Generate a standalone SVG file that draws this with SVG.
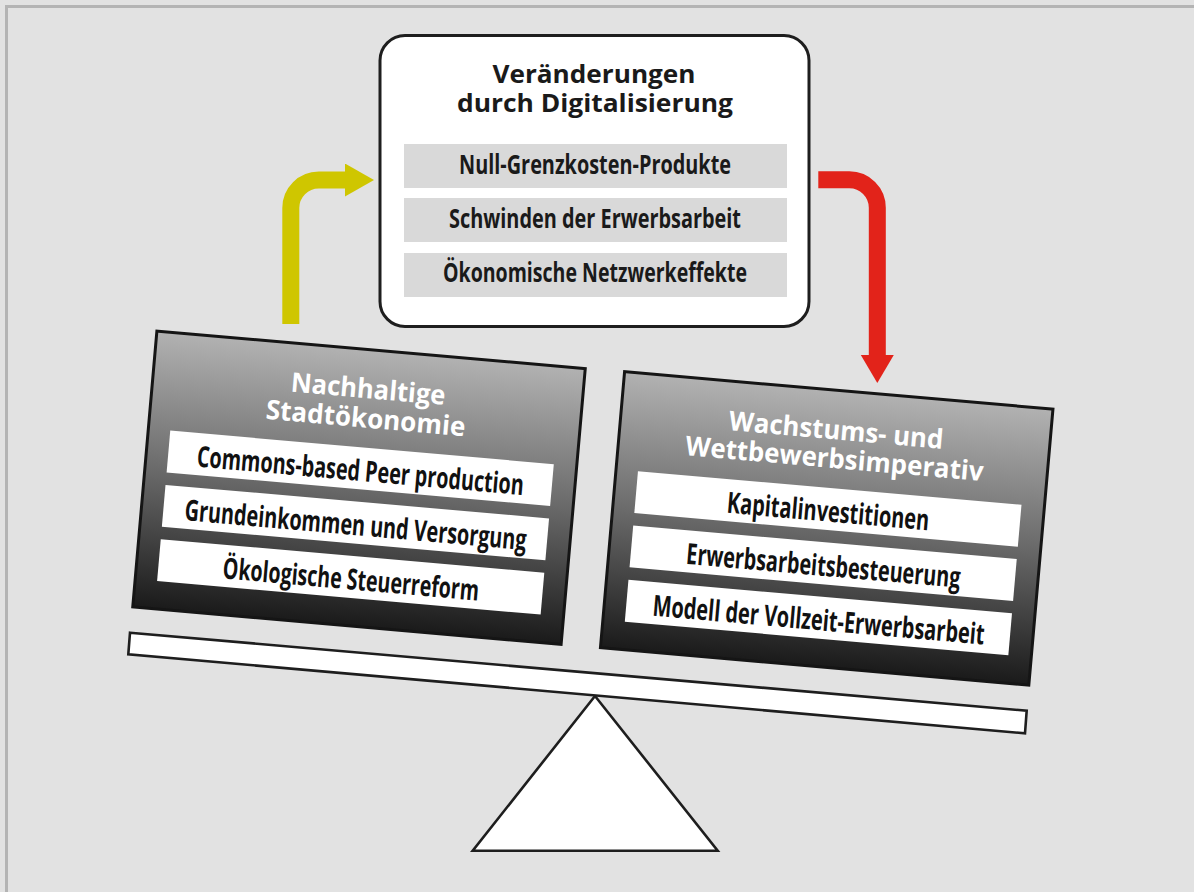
<svg xmlns="http://www.w3.org/2000/svg" width="1194" height="892" viewBox="0 0 1194 892">
  <defs>
    <style>
      .frame { fill: none; stroke: #b4b4b4; stroke-width: 3; }
      .topbox { fill: #ffffff; stroke: #1e1e1e; stroke-width: 3; }
      .graybar { fill: #d9d9d9; }
      .sidebox { fill: url(#boxGrad); stroke: #151515; stroke-width: 3; }
      .whitebar { fill: #ffffff; }
      .title { font-family: "Open Sans", "Liberation Sans", sans-serif; font-weight: 700; font-size: 25.5px; fill: #1a1a1a; text-anchor: middle; }
      .stitle { font-family: "Open Sans", "Liberation Sans", sans-serif; font-weight: 700; font-size: 27px; fill: #ffffff; text-anchor: middle; }
      .item { font-family: "Liberation Sans Narrow", "Open Sans", "Liberation Sans", sans-serif; font-weight: 700; font-size: 26px; fill: #1a1a1a; text-anchor: middle; }
      .sitem { font-family: "Liberation Sans Narrow", "Open Sans", "Liberation Sans", sans-serif; font-weight: 700; font-size: 29px; fill: #111111; text-anchor: middle; }
      .scale { fill: #ffffff; stroke: #1e1e1e; stroke-width: 2.6; stroke-linejoin: miter; }
      .arrowY { fill: none; stroke: #cfc600; stroke-width: 17; }
      .arrowR { fill: none; stroke: #e2231a; stroke-width: 17; }
    </style>
    <linearGradient id="boxGrad" x1="0" y1="0" x2="0" y2="1">
      <stop offset="0" stop-color="#b2b2b2"/>
      <stop offset="0.5" stop-color="#6a6a6a"/>
      <stop offset="1" stop-color="#1a1a1a"/>
    </linearGradient>
    <marker id="headY" markerUnits="userSpaceOnUse" markerWidth="30" markerHeight="34" refX="1" refY="16.5" orient="auto">
      <path d="M0,0 L29,16.5 L0,33 Z" fill="#cfc600"/>
    </marker>
    <marker id="headR" markerUnits="userSpaceOnUse" markerWidth="30" markerHeight="34" refX="1" refY="16.5" orient="auto">
      <path d="M0,0 L28,16.5 L0,33 Z" fill="#e2231a"/>
    </marker>
  </defs>

  <rect x="0" y="0" width="1194" height="892" fill="#e2e2e2"/>
  <path class="frame" d="M6.5,892 V6.5 H1194"/>

  <g id="connectors">
    <path class="arrowY" d="M290.8,324 V208 A28,28 0 0 1 318.8,180 H346" marker-end="url(#headY)"/>
    <path class="arrowR" d="M818.3,179.7 H849.3 A28,28 0 0 1 877.3,207.7 V356" marker-end="url(#headR)"/>
  </g>

  <g id="scale">
    <polygon class="scale" points="595,696 472.7,850.7 717.7,850.7"/>
    <polygon class="scale" points="130,632.7 1026.7,710.7 1025,733.3 128.3,654.3"/>
  </g>

  <g id="digitalisierung">
    <rect class="topbox" x="380" y="35.5" width="429" height="291" rx="25" ry="25"/>
    <text class="title" x="594" y="82.5" textLength="203" lengthAdjust="spacingAndGlyphs">Veränderungen</text>
    <text class="title" x="595" y="112" textLength="276" lengthAdjust="spacingAndGlyphs">durch Digitalisierung</text>
    <rect class="graybar" x="404" y="144" width="383" height="44"/>
    <rect class="graybar" x="404" y="198" width="383" height="44"/>
    <rect class="graybar" x="404" y="253" width="383" height="44"/>
    <text class="item" x="595" y="174" textLength="272" lengthAdjust="spacingAndGlyphs">Null-Grenzkosten-Produkte</text>
    <text class="item" x="595" y="228" textLength="292" lengthAdjust="spacingAndGlyphs">Schwinden der Erwerbsarbeit</text>
    <text class="item" x="595" y="282" textLength="304" lengthAdjust="spacingAndGlyphs">Ökonomische Netzwerkeffekte</text>
  </g>

  <g id="nachhaltige" transform="translate(359,487.75) rotate(5)">
    <rect class="sidebox" x="-215" y="-138.5" width="430" height="277"/>
    <text class="stitle" x="0.6" y="-90" textLength="155" lengthAdjust="spacingAndGlyphs">Nachhaltige</text>
    <text class="stitle" x="0.6" y="-60.5" textLength="200" lengthAdjust="spacingAndGlyphs">Stadtökonomie</text>
    <rect class="whitebar" x="-193" y="-40.5" width="385" height="42"/>
    <rect class="whitebar" x="-193" y="14" width="385" height="42"/>
    <rect class="whitebar" x="-193" y="68.5" width="385" height="42"/>
    <text class="sitem" x="0" y="-7" textLength="328" lengthAdjust="spacingAndGlyphs">Commons-based Peer production</text>
    <text class="sitem" x="0" y="47.5" textLength="343" lengthAdjust="spacingAndGlyphs">Grundeinkommen und Versorgung</text>
    <text class="sitem" x="0" y="102" textLength="257" lengthAdjust="spacingAndGlyphs">Ökologische Steuerreform</text>
  </g>

  <g id="wachstum" transform="translate(826.7,528.4) rotate(5)">
    <rect class="sidebox" x="-215" y="-138.5" width="430" height="277"/>
    <text class="stitle" x="0.9" y="-89.4" textLength="215" lengthAdjust="spacingAndGlyphs">Wachstums- und</text>
    <text class="stitle" x="1.7" y="-60.8" textLength="299" lengthAdjust="spacingAndGlyphs">Wettbewerbsimperativ</text>
    <rect class="whitebar" x="-193" y="-40.5" width="385" height="42"/>
    <rect class="whitebar" x="-193" y="14" width="385" height="42"/>
    <rect class="whitebar" x="-193" y="68.5" width="385" height="42"/>
    <text class="sitem" x="0" y="-7" textLength="203" lengthAdjust="spacingAndGlyphs">Kapitalinvestitionen</text>
    <text class="sitem" x="0" y="47.5" textLength="275" lengthAdjust="spacingAndGlyphs">Erwerbsarbeitsbesteuerung</text>
    <text class="sitem" x="0" y="102" textLength="333" lengthAdjust="spacingAndGlyphs">Modell der Vollzeit-Erwerbsarbeit</text>
  </g>
</svg>
